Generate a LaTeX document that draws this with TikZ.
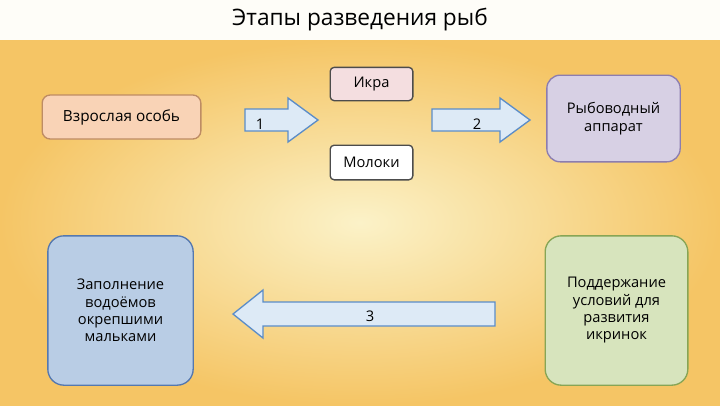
\documentclass[tikz,border=0pt]{standalone}
\usepackage{fontspec}
\setmainfont{Open Sans}
\usetikzlibrary{shapes.arrows}
\begin{document}
\begin{tikzpicture}[x=0.75pt,y=-0.75pt,
 box/.style={draw,rounded corners=6pt,line width=1pt,align=center,inner sep=2pt,font=\fontsize{11}{13}\selectfont},
 blockarrow/.style={draw=arrowline,fill=arrowfill,line width=1pt},
 lbl/.style={font=\fontsize{11}{13}\selectfont}]
\definecolor{arrowfill}{HTML}{DDEAF6}
\definecolor{arrowline}{HTML}{5B8DC8}
\definecolor{bgin}{HTML}{FBF2C8}
\definecolor{bgout}{HTML}{F5C565}
\useasboundingbox (0,0) rectangle (720,405);
\fill[inner color=bgin,outer color=bgout] (0,40) rectangle (720,405);
\fill[white!88!bgin] (0,0) rectangle (720,40);
\node[font=\fontsize{17}{20}\selectfont] (title) at (360,20) {Этапы разведения рыб};
\node[box,fill={rgb,255:red,249;green,211;blue,182},draw={rgb,255:red,190;green,140;blue,100},minimum width=119pt,minimum height=33pt,font=\fontsize{11.5}{13}\selectfont] (adult) at (121.5,117) {Взрослая особь};
\node[box,fill={rgb,255:red,244;green,222;blue,224},draw=black!70,minimum width=62pt,minimum height=25pt,rounded corners=3pt] (ikra) at (371.5,84) {Икра};
\node[box,fill=white,draw=black!70,minimum width=62pt,minimum height=26pt,rounded corners=3pt] (moloki) at (371.5,162.5) {Молоки};
\node[box,fill={rgb,255:red,215;green,208;blue,228},draw={rgb,255:red,140;green,125;blue,175},minimum width=100pt,minimum height=65pt,rounded corners=10pt] (app) at (613.5,118.5) {Рыбоводный\\аппарат};
\node[box,fill={rgb,255:red,185;green,205;blue,229},draw={rgb,255:red,85;green,120;blue,175},minimum width=109pt,minimum height=112pt,rounded corners=12pt] (fill) at (120.5,310.5) {Заполнение\\водоёмов\\окрепшими\\мальками};
\node[box,fill={rgb,255:red,215;green,228;blue,189},draw={rgb,255:red,135;green,165;blue,85},minimum width=107pt,minimum height=112pt,rounded corners=12pt] (care) at (616.5,310.5) {Поддержание\\условий для\\развития\\икринок};
% arrow 1
\draw[blockarrow] (245,109)--(288,109)--(288,98)--(318,120)--(288,142)--(288,131)--(245,131)--cycle;
\node[lbl] (n1) at (260,124) {1};
% arrow 2
\draw[blockarrow] (432,109)--(500,109)--(500,98)--(530,120)--(500,142)--(500,131)--(432,131)--cycle;
\node[lbl] (n2) at (477,124) {2};
% arrow 3
\draw[blockarrow] (495,302)--(263,302)--(263,290)--(233,314)--(263,338)--(263,326)--(495,326)--cycle;
\node[lbl] (n3) at (370,316) {3};
\end{tikzpicture}
\end{document}
